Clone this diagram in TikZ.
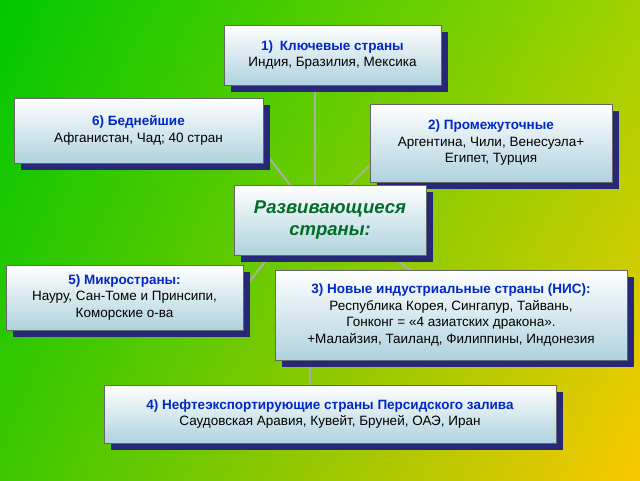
\documentclass[tikz,border=0pt]{standalone}
\usepackage{fontspec}
\setmainfont{Liberation Sans}
\usetikzlibrary{shadings}
\definecolor{gUL}{RGB}{0,200,0}
\definecolor{gLL}{RGB}{60,200,0}
\definecolor{gUR}{RGB}{160,210,0}
\definecolor{gLR}{RGB}{250,200,0}
\definecolor{bxb}{RGB}{175,210,222}
\definecolor{ttlc}{RGB}{0,40,200}
\definecolor{cen}{RGB}{0,110,40}
\definecolor{shd}{RGB}{40,40,120}
\begin{document}
\begin{tikzpicture}[x=1pt,y=-1pt,
 bx/.style={draw=black!60,line width=0.6pt,top color=white,bottom color=bxb,align=center,font=\fontsize{13.5}{16.5}\selectfont,inner sep=2pt},
 ln/.style={draw=gray!65,line width=2pt}]
\useasboundingbox (0,0) rectangle (640,480);
\shade[upper left=gUL,lower left=gLL,upper right=gUR,lower right=gLR] (0,0) rectangle (640,480);
\def\bxs#1#2#3#4#5{%
 \fill[shd] (#2+7,#3+7) rectangle (#4+7,#5+7);
 \coordinate (#1) at ({(#2+#4)/2},{(#3+#5)/2});
}
\draw[ln] (315,85) -- (315,185);
\draw[ln] (263,150) -- (290,185);
\draw[ln] (370,165) -- (350,185);
\draw[ln] (243,290) -- (270,255);
\draw[ln] (390,255) -- (410,270);
\draw[ln] (310,360) -- (310,385);
\bxs{c1}{224}{25}{441}{85}
\bxs{c6}{14}{98}{263}{163}
\bxs{c2}{370}{104}{612}{182}
\bxs{cc}{234}{185}{426}{255}
\bxs{c5}{6}{265}{243}{330}
\bxs{c3}{275}{270}{627}{360}
\bxs{c4}{104}{385}{556}{443}
\node[bx,minimum width=217pt,minimum height=60pt] (n1) at (c1) {{\color{ttlc}\bfseries 1)\enspace Ключевые страны}\\Индия, Бразилия, Мексика};
\node[bx,minimum width=249pt,minimum height=65pt] (n6) at (c6) {{\color{ttlc}\bfseries 6) Беднейшие}\\Афганистан, Чад; 40 стран};
\node[bx,minimum width=242pt,minimum height=78pt] (n2) at (c2) {{\color{ttlc}\bfseries 2) Промежуточные}\\Аргентина, Чили, Венесуэла+\\Египет, Турция};
\node[bx,minimum width=192pt,minimum height=70pt,font=\fontsize{18.5}{22}\selectfont\bfseries\itshape,text=cen] (nc) at (cc) {Развивающиеся\\страны:};
\node[bx,minimum width=237pt,minimum height=65pt] (n5) at (c5) {{\color{ttlc}\bfseries 5) Микространы:}\\Науру, Сан-Томе и Принсипи,\\Коморские о-ва};
\node[bx,minimum width=352pt,minimum height=90pt] (n3) at (c3) {{\color{ttlc}\bfseries 3) Новые индустриальные страны (НИС):}\\Республика Корея, Сингапур, Тайвань,\\Гонконг = «4 азиатских дракона».\\+Малайзия, Таиланд, Филиппины, Индонезия};
\node[bx,minimum width=452pt,minimum height=58pt] (n4) at (c4) {{\color{ttlc}\bfseries 4) Нефтеэкспортирующие страны Персидского залива}\\Саудовская Аравия, Кувейт, Бруней, ОАЭ, Иран};
\end{tikzpicture}
\end{document}
